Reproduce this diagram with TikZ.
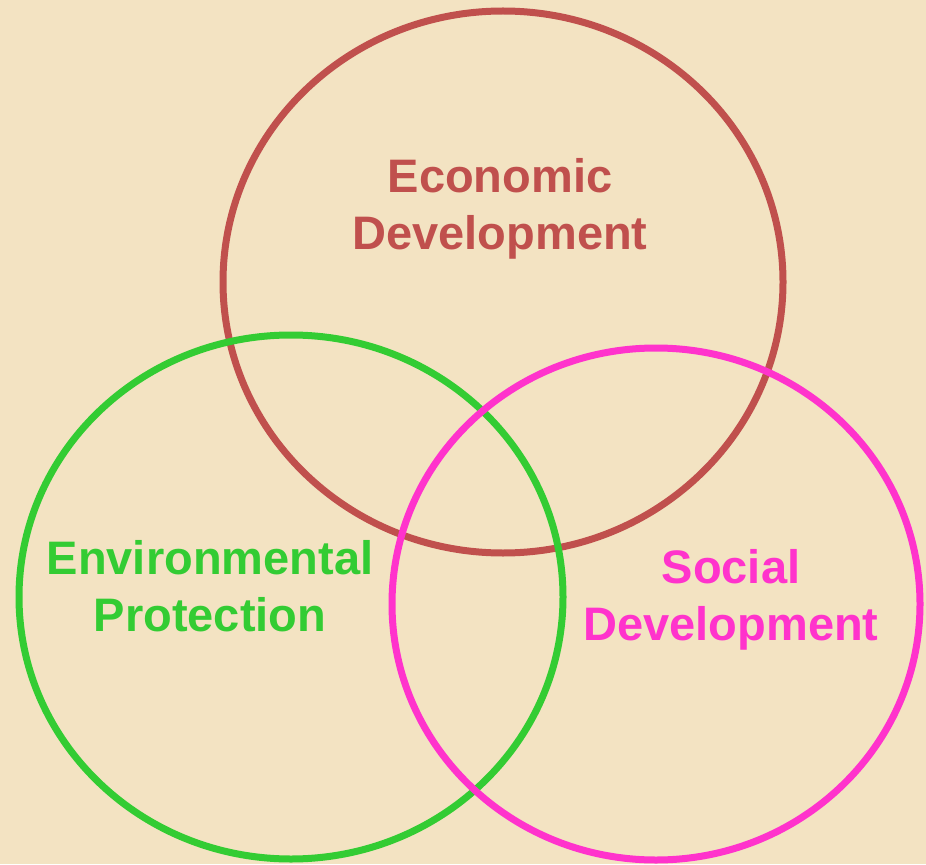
\documentclass[tikz,border=0pt]{standalone}
\usepackage{fontspec}
\setmainfont{Liberation Sans}
\usetikzlibrary{shapes.geometric}
\definecolor{parchment}{HTML}{F3E3C2}
\definecolor{econred}{HTML}{C0504D}
\definecolor{envgreen}{HTML}{33CC33}
\definecolor{socpink}{HTML}{FF33CC}
\begin{document}
\begin{tikzpicture}[x=0.5pt,y=0.5pt,
  ring/.style={ellipse, draw, line width=3.5pt, inner sep=0pt},
  label/.style={font=\fontsize{23.5}{28.5}\selectfont\bfseries, align=center, inner sep=0pt}]
\fill [parchment] (0,0) rectangle (926,864);
\useasboundingbox (0,0) rectangle (926,864);

% the three rings
\node [ring, econred, minimum width=280pt, minimum height=271pt] (econ) at (503,582) {};
\node [ring, envgreen, minimum width=272pt, minimum height=262pt] (env) at (291,267) {};
\node [ring, socpink, minimum width=264pt, minimum height=256pt] (soc) at (656,260) {};

% labels
\node [label, text=econred] (econtext) at (500,655) {Economic\\Development};
\node [label, text=envgreen] (envtext) at (210,278) {Environmental\\Protection};
\node [label, text=socpink] (soctext) at (731,264) {Social\\Development};
\end{tikzpicture}
\end{document}
